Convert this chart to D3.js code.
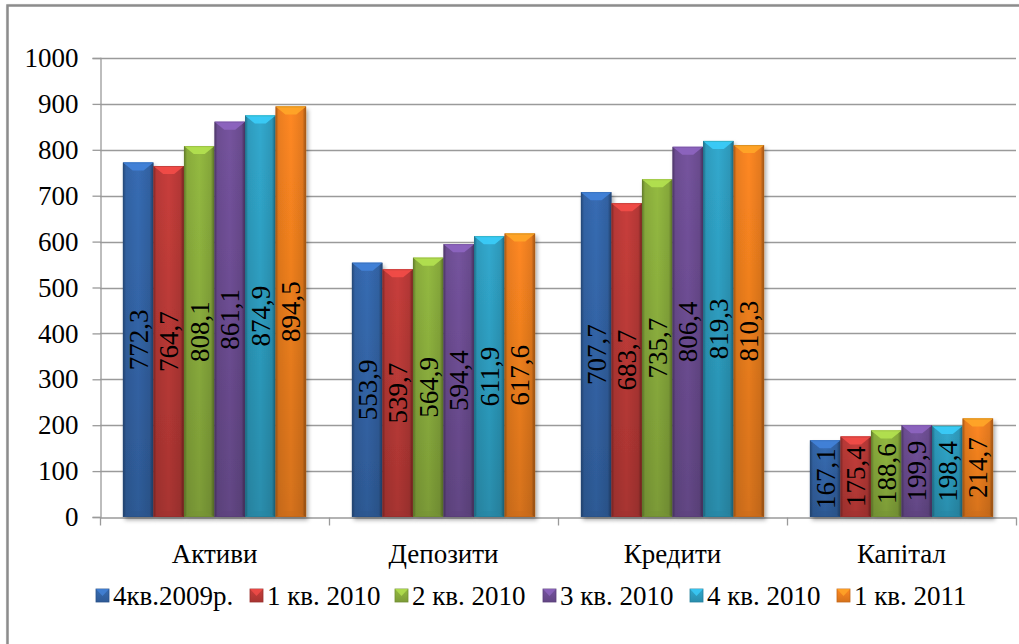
<!DOCTYPE html>
<html>
<head>
<meta charset="utf-8">
<script src="https://cdn.jsdelivr.net/npm/d3@7"></script>
<style>
  html, body { margin: 0; padding: 0; background: #fff; }
  svg { display: block; }
</style>
</head>
<body>
<div id="chart"></div>
<script>
const width = 1019;
const height = 644;
const margin = { top: 58, right: 3, bottom: 127, left: 100 };

const categories = ["Активи", "Депозити", "Кредити", "Капітал"];
const series = ["4кв.2009р.", "1 кв. 2010", "2 кв. 2010", "3 кв. 2010", "4 кв. 2010", "1 кв. 2011"];
const values = [
  [772.3, 553.9, 707.7, 167.1],
  [764.7, 539.7, 683.7, 175.4],
  [808.1, 564.9, 735.7, 188.6],
  [861.1, 594.4, 806.4, 199.9],
  [874.9, 611.9, 819.3, 198.4],
  [894.5, 617.6, 810.3, 214.7]
];
const yTicks = [0, 100, 200, 300, 400, 500, 600, 700, 800, 900, 1000];
const colors = ["#3466aa", "#be3b38", "#8cb03e", "#6f4f96", "#2ea0c3", "#f3811f"];

const font = "\"Liberation Serif\"";
const fontSize = "27px";

const svg = d3.select("#chart").append("svg")
  .attr("width", width).attr("height", height);

const defs = svg.append("defs");

// drop shadow for bars and frame
const shadow = defs.append("filter").attr("id", "shadow")
  .attr("x", "-20%").attr("y", "-20%").attr("width", "150%").attr("height", "150%");
shadow.append("feDropShadow").attr("dx", 2).attr("dy", 3).attr("stdDeviation", 2)
  .attr("flood-color", "#000").attr("flood-opacity", 0.35);

const frameShadow = defs.append("filter").attr("id", "frameShadow")
  .attr("x", "-5%").attr("y", "-5%").attr("width", "110%").attr("height", "110%");
frameShadow.append("feDropShadow").attr("dx", 1).attr("dy", 1).attr("stdDeviation", 1)
  .attr("flood-color", "#000").attr("flood-opacity", 0.3);

// per-series vertical gradient (lighter top, darker bottom)
colors.forEach((c, i) => {
  const g = defs.append("linearGradient").attr("id", "vg" + i)
    .attr("x1", 0).attr("y1", 0).attr("x2", 0).attr("y2", 1);
  g.append("stop").attr("offset", "0%").attr("stop-color", d3.color(c).brighter(0.15));
  g.append("stop").attr("offset", "100%").attr("stop-color", d3.color(c).darker(0.35));
});

// edge shading across width
const hg = defs.append("linearGradient").attr("id", "edge")
  .attr("x1", 0).attr("y1", 0).attr("x2", 1).attr("y2", 0);
[["0%", 0.35], ["10%", 0.08], ["50%", 0], ["88%", 0.1], ["100%", 0.4]].forEach(([o, a]) => {
  hg.append("stop").attr("offset", o).attr("stop-color", "#000").attr("stop-opacity", a);
});

// chart frame
svg.append("rect")
  .attr("x", 7.5).attr("y", 5.5)
  .attr("width", 1040).attr("height", 670)
  .attr("fill", "#fff")
  .attr("stroke", "#8c8c8c").attr("stroke-width", 2.5)
  .attr("filter", "url(#frameShadow)");

const x0 = d3.scaleBand()
  .domain(categories)
  .range([margin.left, width - margin.right])
  .paddingInner(0).paddingOuter(0);

const x1 = d3.scaleBand()
  .domain(d3.range(series.length))
  .range([0, x0.bandwidth()])
  .paddingInner(0).paddingOuter(0.75);

const y = d3.scaleLinear()
  .domain([0, 1000])
  .range([height - margin.bottom, margin.top]);

// gridlines
svg.append("g").selectAll("line")
  .data(yTicks.filter(d => d > 0))
  .join("line")
  .attr("x1", margin.left).attr("x2", width - margin.right)
  .attr("y1", d => Math.round(y(d)) + 0.5).attr("y2", d => Math.round(y(d)) + 0.5)
  .attr("stroke", "#9a9a9a").attr("stroke-width", 1.3);

// y axis
const yAxis = svg.append("g")
  .attr("transform", `translate(${margin.left + 0.5},0)`)
  .call(d3.axisLeft(y).tickValues(yTicks).tickSize(8).tickPadding(14).tickFormat(d3.format("d")))
  .attr("font-family", null).attr("font-size", null);
yAxis.select(".domain").attr("stroke", "#9a9a9a").attr("stroke-width", 1.3);
yAxis.selectAll(".tick line").attr("stroke", "#9a9a9a").attr("stroke-width", 1.3);
yAxis.selectAll(".tick text")
  .style("font-family", font).style("font-size", fontSize).attr("fill", "#000");

// x axis
const xAxis = svg.append("g")
  .attr("transform", `translate(0,${Math.round(y(0)) + 0.5})`)
  .call(d3.axisBottom(x0).tickSize(0).tickPadding(26))
  .attr("font-family", null).attr("font-size", null);
xAxis.select(".domain").attr("stroke", "#9a9a9a").attr("stroke-width", 1.3);
xAxis.selectAll(".tick text")
  .style("font-family", font).style("font-size", fontSize).attr("fill", "#000");
// category separators
xAxis.append("g").selectAll("line")
  .data(categories.concat([null]))
  .join("line")
  .attr("x1", (d, i) => margin.left + i * x0.step() + 0.5)
  .attr("x2", (d, i) => margin.left + i * x0.step() + 0.5)
  .attr("y1", 0).attr("y2", 8)
  .attr("stroke", "#9a9a9a").attr("stroke-width", 1.3);

// bars
function drawBar(g, x, yTop, w, h, i) {
  g.append("rect").attr("x", x).attr("y", yTop).attr("width", w).attr("height", h)
    .attr("fill", `url(#vg${i})`).attr("filter", "url(#shadow)");
  g.append("rect").attr("x", x).attr("y", yTop).attr("width", w).attr("height", h)
    .attr("fill", "url(#edge)");
  const b = Math.min(8, h / 2);
  // top bevel
  g.append("path")
    .attr("d", `M${x},${yTop} L${x + w},${yTop} L${x + w * 0.68},${yTop + b} L${x + w * 0.32},${yTop + b} Z`)
    .attr("fill", d3.color(colors[i]).brighter(0.7)).attr("opacity", 0.9);
  g.append("line")
    .attr("x1", x + 1).attr("x2", x + w - 1).attr("y1", yTop + 0.5).attr("y2", yTop + 0.5)
    .attr("stroke", d3.color(colors[i]).brighter(1.1)).attr("stroke-width", 1);
  // bottom bevel
  g.append("path")
    .attr("d", `M${x},${yTop + h} L${x + w},${yTop + h} L${x + w * 0.68},${yTop + h - 6} L${x + w * 0.32},${yTop + h - 6} Z`)
    .attr("fill", d3.color(colors[i]).darker(0.5)).attr("opacity", 0.5);
  // outline
  g.append("rect").attr("x", x + 0.5).attr("y", yTop + 0.5).attr("width", w - 1).attr("height", h - 1)
    .attr("fill", "none").attr("stroke", d3.color(colors[i]).darker(0.8)).attr("stroke-opacity", 0.5);
}

const barsG = svg.append("g");
series.forEach((s, i) => {
  categories.forEach((c, j) => {
    const v = values[i][j];
    const bx = x0(c) + x1(i);
    const by = y(v);
    const bh = y(0) - y(v);
    drawBar(barsG.append("g"), bx, by, x1.bandwidth(), bh, i);
  });
});

// value labels
const labelsG = svg.append("g");
series.forEach((s, i) => {
  categories.forEach((c, j) => {
    const v = values[i][j];
    const cx = x0(c) + x1(i) + x1.bandwidth() / 2;
    const cy = (y(v) + y(0)) / 2;
    labelsG.append("text")
      .attr("transform", `translate(${cx},${cy}) rotate(-90)`)
      .attr("text-anchor", "middle")
      .attr("dy", "0.35em")
      .style("font-family", font).style("font-size", fontSize).attr("fill", "#000")
      .text(d3.format(".1f")(v).replace(".", ","));
  });
});

// legend
const legendX = [96, 250, 395, 543, 690, 837];
const legendY = 596;
const legend = svg.append("g");
series.forEach((s, i) => {
  const g = legend.append("g").attr("transform", `translate(${legendX[i]},${legendY})`);
  g.append("rect").attr("x", 0).attr("y", -7).attr("width", 13).attr("height", 13)
    .attr("fill", `url(#vg${i})`).attr("stroke", d3.color(colors[i]).darker(0.6)).attr("stroke-width", 0.8);
  g.append("path").attr("d", "M0,-7 L13,-7 L6.5,0 Z")
    .attr("fill", d3.color(colors[i]).brighter(0.7)).attr("opacity", 0.8);
  g.append("text")
    .attr("x", 17).attr("y", 0)
    .attr("dy", "0.35em")
    .style("font-family", font).style("font-size", fontSize).attr("fill", "#000")
    .text(s);
});
</script>
</body>
</html>
